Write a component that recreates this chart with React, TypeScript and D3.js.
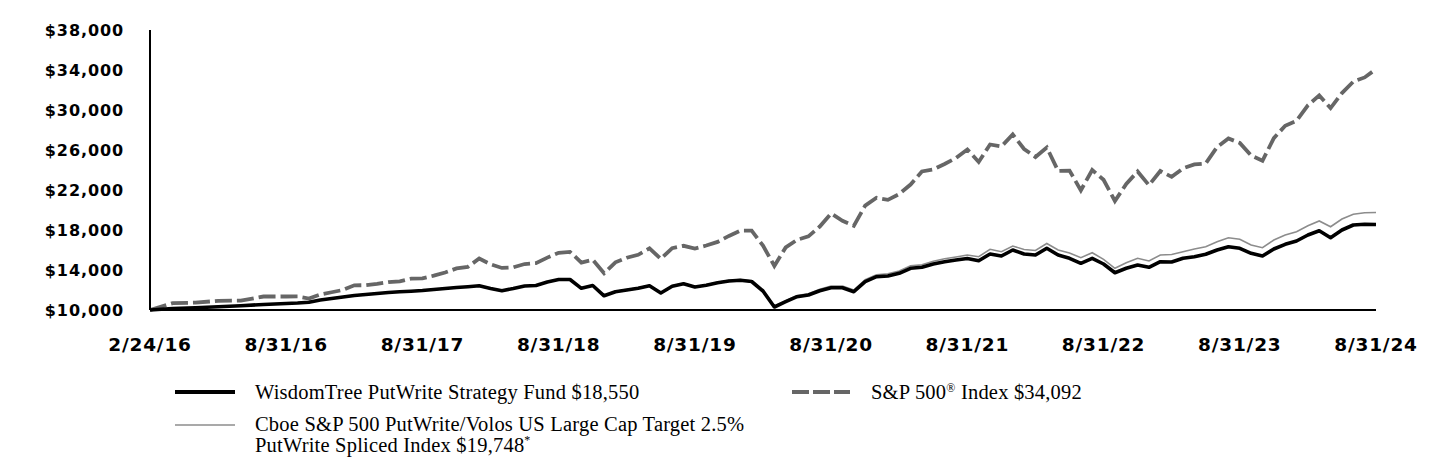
import React from 'react';
import * as d3 from 'd3';

const xLabels = ['2/24/16', '8/31/16', '8/31/17', '8/31/18', '8/31/19', '8/31/20', '8/31/21', '8/31/22', '8/31/23', '8/31/24'];
const xLabelMonths = [0, 6, 18, 30, 42, 54, 66, 78, 90, 102];
const yTicks = [10000, 14000, 18000, 22000, 26000, 30000, 34000, 38000];

const fundValues = [
  10000, 10150, 10230, 10330, 10430, 10550, 10650, 10700, 10780, 11000,
  11150, 11300, 11450, 11550, 11650, 11750, 11820, 11880, 11950, 12050,
  12150, 12250, 12330, 12420, 12150, 11930, 12150, 12400, 12450, 12800,
  13050, 13050, 12170, 12450, 11420, 11830, 12000, 12170, 12430, 11700,
  12380, 12620, 12300, 12470, 12720, 12900, 12980, 12850, 11900, 10300,
  10830, 11330, 11500, 11930, 12230, 12230, 11830, 12830, 13330, 13400,
  13670, 14170, 14270, 14600, 14830, 15000, 15150, 14930, 15600, 15400,
  16000, 15600, 15500, 16170, 15500, 15170, 14670, 15170, 14600, 13730,
  14170, 14500, 14270, 14830, 14800, 15170, 15330, 15570, 16000, 16330,
  16170, 15670, 15400, 16100, 16570, 16900, 17500, 17930, 17230, 18000,
  18500, 18570, 18550,
];

const cboeValues = [
  10000, 10150, 10240, 10340, 10440, 10560, 10660, 10710, 10790, 11010,
  11170, 11320, 11470, 11570, 11670, 11770, 11840, 11900, 11970, 12070,
  12170, 12270, 12350, 12440, 12170, 11950, 12180, 12430, 12480, 12830,
  13080, 13080, 12200, 12480, 11450, 11870, 12040, 12210, 12470, 11740,
  12430, 12670, 12350, 12520, 12780, 12960, 13040, 12910, 11970, 10380,
  10930, 11450, 11630, 12080, 12400, 12400, 12000, 13020, 13530, 13620,
  13900, 14420, 14530, 14870, 15120, 15300, 15500, 15330, 16070, 15830,
  16400, 16050, 15950, 16650, 16000, 15700, 15230, 15730, 15070, 14170,
  14730, 15170, 14900, 15500, 15550, 15830, 16100, 16330, 16830, 17230,
  17070, 16500, 16230, 17000, 17500, 17830, 18430, 18900, 18330, 19100,
  19570, 19720, 19748,
];

const spValues = [
  10000, 10689, 10734, 10915, 10941, 11348, 11350, 11354, 11150, 11548,
  11775, 12004, 12468, 12482, 12614, 12780, 12861, 13129, 13156, 13430,
  13749, 14156, 14316, 15144, 14575, 14205, 14264, 14595, 14687, 15239,
  15724, 15816, 14740, 15027, 13669, 14766, 15224, 15521, 16155, 15115,
  16182, 16419, 16146, 16448, 16810, 17407, 17932, 17929, 16442, 14407,
  16258, 17021, 17360, 18344, 19658, 18915, 18419, 20432, 21222, 21016,
  21594, 22543, 23850, 24050, 24600, 25200, 26050, 24800, 26550, 26350,
  27550, 26100, 25300, 26250, 23903, 23942, 21966, 24001, 23018, 20899,
  22602, 23851, 22479, 23903, 23313, 24167, 24557, 24655, 26291, 27150,
  26708, 25444, 24922, 27185, 28429, 28924, 30464, 31456, 30192, 31690,
  32838, 33258, 34092,
];

const seriesNames = {
  fund: 'WisdomTree PutWrite Strategy Fund $18,550',
  sp: 'S&P 500',
  spTail: ' Index $34,092',
  cboe1: 'Cboe S&P 500 PutWrite/Volos US Large Cap Target 2.5%',
  cboe2: 'PutWrite Spliced Index $19,748',
};

const W = 1440;
const H = 468;
const X0 = 150;
const X1 = 1376;

export default function App() {
  const xPoint = d3.scalePoint<string>().domain(xLabels).range([X0, X1]);
  const x = d3.scaleLinear().domain(xLabelMonths).range(xLabels.map((l) => xPoint(l) as number));
  const y = d3.scaleLinear().domain([10000, 38000]).range([310, 30]);

  const line = d3
    .line<number>()
    .x((_, i) => x(i))
    .y((v) => y(v));

  const tickFont = { fontFamily: '"DejaVu Sans", sans-serif', fontWeight: 'bold' as const };
  const legendFont = {
    fontFamily: '"Liberation Serif", "Times New Roman", serif',
    fontSize: 20.5,
    letterSpacing: 0.2,
    fill: '#000',
  };

  return (
    <svg width={W} height={H} style={{ position: 'absolute', left: 0, top: 0, display: 'block', background: '#fff' }}>
      {/* y tick labels */}
      {yTicks.map((t) => (
        <text key={t} x={124} y={y(t)} dy="0.36em" textAnchor="end" fontSize={16} letterSpacing={0.9} {...tickFont}>
          {d3.format('$,')(t)}
        </text>
      ))}
      {/* x tick labels */}
      {xLabels.map((l) => (
        <text key={l} x={xPoint(l)} y={351} textAnchor="middle" fontSize={18.5} letterSpacing={0.8} {...tickFont}>
          {l}
        </text>
      ))}

      {/* series */}
      <path d={line(spValues) || ''} fill="none" stroke="#666666" strokeWidth={3.8} strokeDasharray="17,5" />
      <path d={line(cboeValues) || ''} fill="none" stroke="#8c8c8c" strokeWidth={1.6} />
      <path d={line(fundValues) || ''} fill="none" stroke="#000" strokeWidth={3.6} strokeLinejoin="round" />

      {/* axes */}
      <line x1={X0} x2={X0} y1={30} y2={310} stroke="#000" strokeWidth={2} />
      <line x1={X0} x2={X1} y1={310} y2={310} stroke="#000" strokeWidth={2} />

      {/* legend */}
      <line x1={175} x2={235} y1={392} y2={392} stroke="#000" strokeWidth={4} />
      <text x={255} y={399} {...legendFont}>{seriesNames.fund}</text>

      <line x1={792} x2={850} y1={392} y2={392} stroke="#666666" strokeWidth={4} strokeDasharray="17,4" />
      <text x={871} y={399} {...legendFont}>
        {seriesNames.sp}
        <tspan fontSize={12} dy={-7}>®</tspan>
        <tspan dy={7}>{seriesNames.spTail}</tspan>
      </text>

      <line x1={175} x2={235} y1={425} y2={425} stroke="#8c8c8c" strokeWidth={1.6} />
      <text x={255} y={431} {...legendFont}>{seriesNames.cboe1}</text>
      <text x={255} y={452} {...legendFont}>
        {seriesNames.cboe2}
        <tspan fontSize={12} dy={-8}>*</tspan>
      </text>
    </svg>
  );
}
